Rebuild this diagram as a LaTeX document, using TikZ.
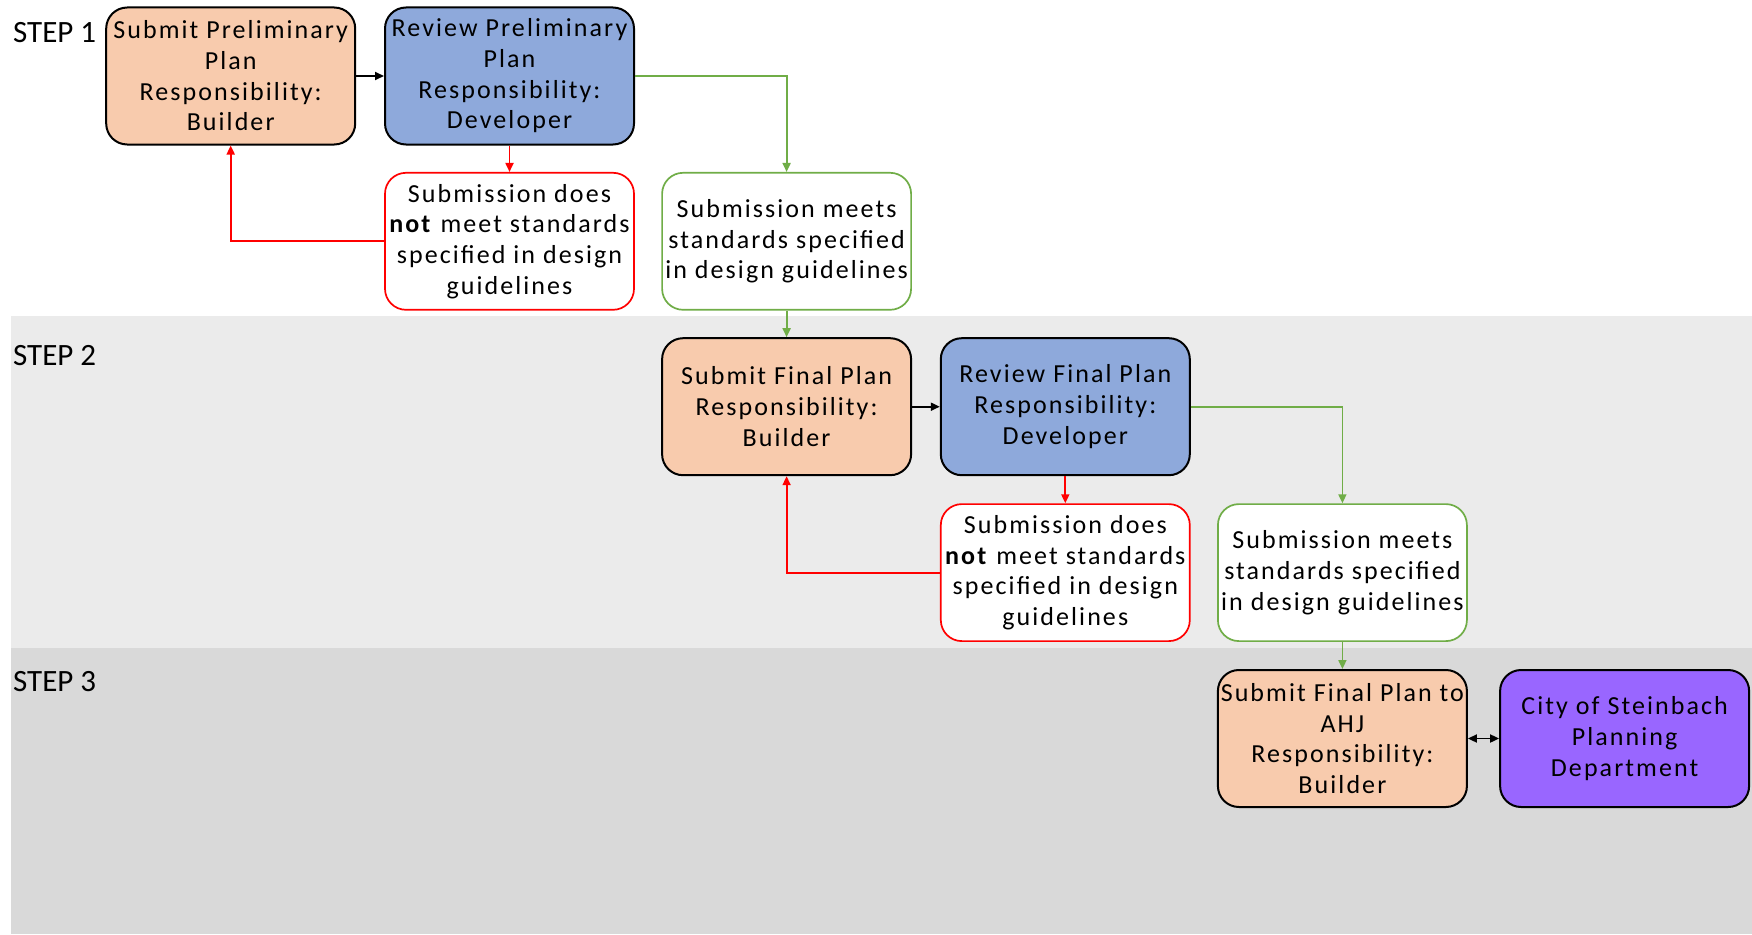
\documentclass[tikz,border=0pt]{standalone}
\usepackage{fontspec}
\setmainfont{Carlito}
\newfontfamily\boxfont[LetterSpace=8]{Carlito}
\usetikzlibrary{arrows.meta}
\definecolor{orangefill}{HTML}{F8CBAD}
\definecolor{bluefill}{HTML}{8EA9DB}
\definecolor{purplefill}{HTML}{9966FF}
\definecolor{greenline}{HTML}{70AD47}
\definecolor{redline}{HTML}{FF0000}
\definecolor{bandtwo}{HTML}{EBEBEB}
\definecolor{bandthree}{HTML}{D9D9D9}
\tikzset{
  box/.style={rounded corners=21pt, line width=2pt, minimum width=249pt, minimum height=137pt,
    align=center, inner sep=0pt, font=\boxfont\fontsize{26}{30.7}\selectfont},
  builderbox/.style={box, draw=black, fill=orangefill},
  devbox/.style={box, draw=black, fill=bluefill},
  citybox/.style={box, draw=black, fill=purplefill},
  failbox/.style={box, draw=redline, fill=white, line width=1.7pt},
  passbox/.style={box, draw=greenline, fill=white, line width=1.7pt},
  tip/.style={-{Triangle[length=9pt,width=8pt]}},
  blk/.style={draw=black, line width=1.8pt, tip},
  redarr/.style={draw=redline, line width=1.8pt, tip},
  grnarr/.style={draw=greenline, line width=1.8pt, tip},
  steplabel/.style={anchor=west, inner sep=0pt, font=\fontsize{31}{36}\selectfont}
}
\begin{document}
\begin{tikzpicture}[x=1pt,y=-1pt]
\useasboundingbox (0,0) rectangle (1752,934);
\fill[white] (0,0) rectangle (1752,934);
\fill[bandtwo] (11,316) rectangle (1752,648);
\fill[bandthree] (11,648) rectangle (1752,934);

\node[steplabel] (s1) at (13,33) {STEP 1};
\node[steplabel] (s2) at (13,356) {STEP 2};
\node[steplabel] (s3) at (13,682) {STEP 3};

\node[builderbox] (A) at (230.7,76) {Submit Preliminary\\Plan\\Responsibility:\\Builder};
\node[devbox] (B) at (509.5,76) {Review Preliminary\\Plan\\Responsibility:\\Developer};
\node[failbox] (R1) at (509.5,241.3) {Submission does\\\textbf{not} meet standards\\specified in design\\guidelines};
\node[passbox] (G1) at (786.6,241.3) {Submission meets\\standards specified\\in design guidelines};
\node[builderbox] (C) at (786.6,406.7) {Submit Final Plan\\Responsibility:\\Builder};
\node[devbox] (D) at (1065.3,406.7) {Review Final Plan\\Responsibility:\\Developer};
\node[failbox] (R2) at (1065.3,572.6) {Submission does\\\textbf{not} meet standards\\specified in design\\guidelines};
\node[passbox] (G2) at (1342.4,572.6) {Submission meets\\standards specified\\in design guidelines};
\node[builderbox] (E) at (1342.4,738.5) {Submit Final Plan to\\AHJ\\Responsibility:\\Builder};
\node[citybox] (F) at (1624.6,738.5) {City of Steinbach\\Planning\\Department};

\draw[blk] (A.east) -- (B.west);
\draw[redarr] (B.south) -- (R1.north);
\draw[redarr] (R1.west) -| (A.south);
\draw[grnarr] (B.east) -| (G1.north);
\draw[grnarr] (G1.south) -- (C.north);
\draw[blk] (C.east) -- (D.west);
\draw[redarr] (D.south) -- (R2.north);
\draw[redarr] (R2.west) -| (C.south);
\draw[grnarr] (D.east) -| (G2.north);
\draw[grnarr] (G2.south) -- (E.north);
\draw[blk, {Triangle[length=9pt,width=8pt]}-{Triangle[length=9pt,width=8pt]}] (E.east) -- (F.west);
\end{tikzpicture}
\end{document}
